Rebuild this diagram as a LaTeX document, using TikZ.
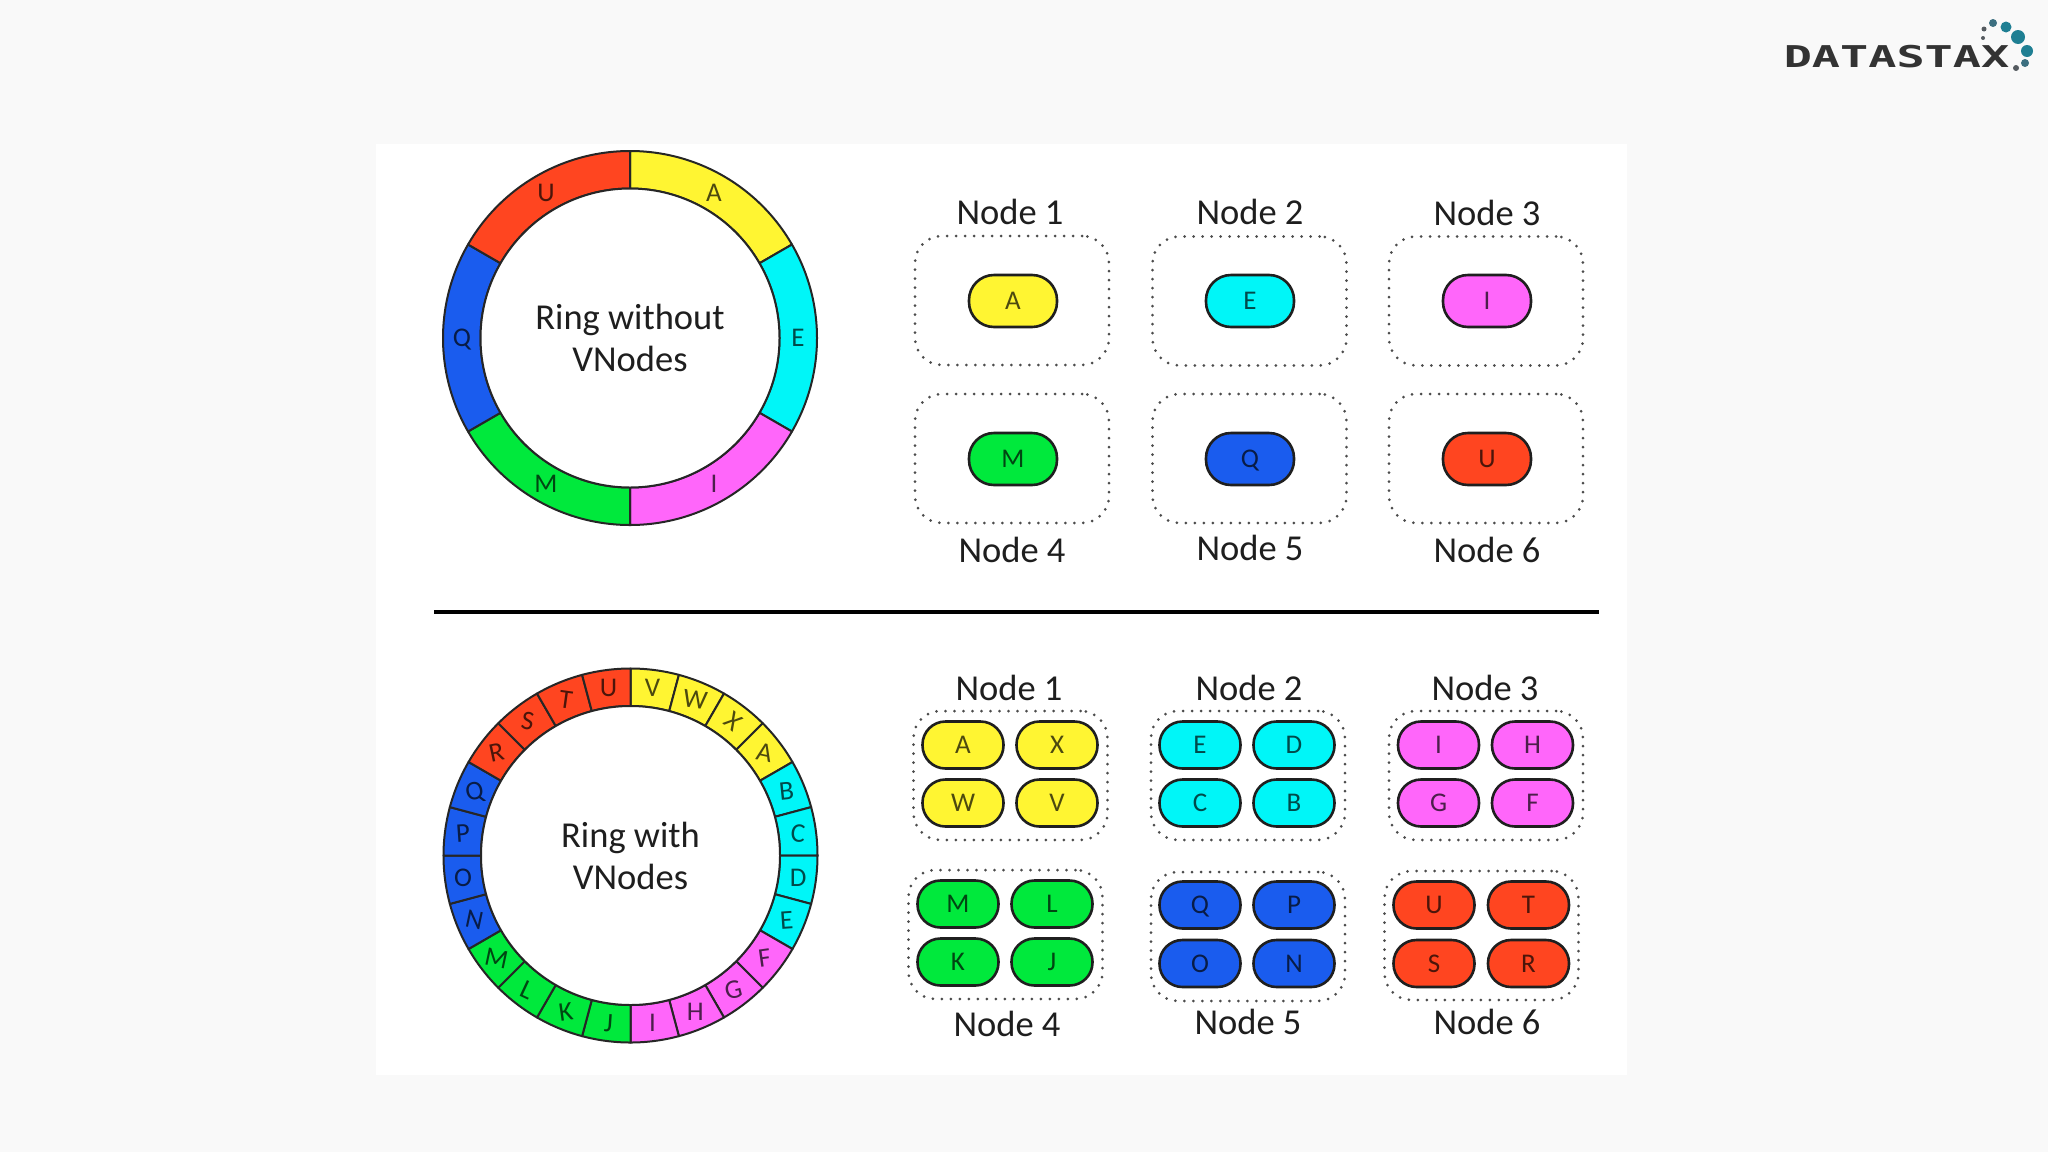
\documentclass[tikz,border=0pt]{standalone}
\usepackage{fontspec}
\setmainfont{Carlito}
\newfontfamily\logofont{DejaVu Sans Mono}
\usetikzlibrary{calc}
\definecolor{cY}{HTML}{FFF532}
\definecolor{cC}{HTML}{00F6F8}
\definecolor{cM}{HTML}{FF66FA}
\definecolor{cG}{HTML}{00E93C}
\definecolor{cB}{HTML}{1A5CEE}
\definecolor{cR}{HTML}{FF4520}
\definecolor{pagebg}{HTML}{F9F9F9}
\definecolor{inkc}{HTML}{1E1E1E}
\definecolor{tealA}{HTML}{1F7F93}
\definecolor{tealB}{HTML}{3C6F80}
\definecolor{grayd}{HTML}{555B60}
\tikzset{
  ringseg/.style={draw=black!85,line width=2pt,line join=round,fill=#1},
  hub/.style={circle,fill=white,draw=black!85,line width=2pt,minimum size=299pt,inner sep=0pt,outer sep=0pt,
    align=center,text=inkc,font=\fontsize{36.5}{42}\selectfont},
  tag/.style={inner sep=0pt,outer sep=0pt,text height=17.4pt,text depth=0pt,text=#1!30!black,font=\fontsize{27}{27}\selectfont},
  hostbox/.style={draw=black!70,line width=3pt,line cap=round,dash pattern=on 0pt off 9pt,rounded corners=27pt,
    minimum width=194pt,minimum height=129pt,inner sep=0pt,outer sep=0pt},
  bigpill/.style={draw=black!88,line width=2.6pt,fill=#1,text=#1!30!black,rounded corners=25pt,minimum width=88pt,minimum height=52pt,
    inner sep=0pt,outer sep=0pt,text height=17.4pt,text depth=0pt,font=\fontsize{27}{27}\selectfont},
  pill/.style={draw=black!88,line width=2.6pt,fill=#1,text=#1!30!black,rounded corners=23pt,minimum width=81pt,minimum height=47pt,
    inner sep=0pt,outer sep=0pt,text height=17.4pt,text depth=0pt,font=\fontsize{27}{27}\selectfont},
  hostname/.style={anchor=base,inner sep=0pt,outer sep=0pt,text=inkc,font=\fontsize{36.5}{36.5}\selectfont},
  logodot/.style={circle,inner sep=0pt,outer sep=0pt,fill=#1},
}
\newcommand{\ringsector}[4]{% centre, from, to, colour
  \path[ringseg=#4] ($(#1)+(#2:187pt)$) arc[start angle=#2,end angle=#3,radius=187pt]
    -- ($(#1)+(#3:149.5pt)$) arc[start angle=#3,end angle=#2,radius=149.5pt] -- cycle;}
\begin{document}
\begin{tikzpicture}[x=1pt,y=-1pt]
\useasboundingbox (0,0) rectangle (2048,1152);
\fill[pagebg] (0,0) rectangle (2048,1152);
\fill[white] (376,144) rectangle (1627,1075);

% logo
\node[anchor=base,inner sep=0pt,text=black!80,font=\logofont\bfseries\fontsize{30}{30}\selectfont,xscale=1.56] (logo) at (1896.5,67) {DATASTAX};
\node[logodot=tealB,minimum size=8pt] (d1) at (1993,23) {};
\node[logodot=tealA,minimum size=11pt] (d2) at (2006,27) {};
\node[logodot=tealA,minimum size=14pt] (d3) at (2018,37) {};
\node[logodot=tealA,minimum size=12pt] (d4) at (2027,51) {};
\node[logodot=tealB,minimum size=8pt] (d5) at (2025,63) {};
\node[logodot=grayd,minimum size=6pt] (d6) at (2016,68) {};
\node[logodot=grayd,minimum size=5pt] (d7) at (1984,29) {};
\node[logodot=grayd,minimum size=4pt] (d8) at (1983,38) {};

% upper ring
\coordinate (ca) at (630,338);
\foreach \f/\t/\c in {90/30/cY,30/-30/cC,-30/-90/cM,-90/-150/cG,-150/-210/cB,-210/-270/cR}{\ringsector{ca}{\f}{\t}{\c}}
\node[hub] (hubA) at (ca) {Ring without\\VNodes};
\foreach \a/\l/\c/\r in {60/A/cY/0,0/E/cC/0,-60/I/cM/0,-120/M/cG/0,180/Q/cB/0,120/U/cR/0}{
  \node[tag=\c,rotate=\r] (ra\l) at ($(ca)+(\a:168pt)$) {\l};}

% lower ring
\coordinate (cb) at (630.5,855.5);
\foreach \i/\c in {0/cY,1/cY,2/cY,3/cY,4/cC,5/cC,6/cC,7/cC,8/cM,9/cM,10/cM,11/cM,12/cG,13/cG,14/cG,15/cG,16/cB,17/cB,18/cB,19/cB,20/cR,21/cR,22/cR,23/cR}{
  \pgfmathsetmacro{\ff}{90-15*\i}\pgfmathsetmacro{\tt}{75-15*\i}
  \ringsector{cb}{\ff}{\tt}{\c}}
\node[hub] (hubB) at (cb) {Ring with\\VNodes};
\foreach \i/\l/\c/\r in {0/V/cY/0,1/W/cY/-8,2/X/cY/-40,3/A/cY/-12,4/B/cC/6,5/C/cC/-5,6/D/cC/0,7/E/cC/4,8/F/cM/8,9/G/cM/15,10/H/cM/0,11/I/cM/0,12/J/cG/-4,13/K/cG/8,14/L/cG/-25,15/M/cG/-12,16/N/cB/-12,17/O/cB/0,18/P/cB/4,19/Q/cB/12,20/R/cR/12,21/S/cR/-10,22/T/cR/-8,23/U/cR/0}{
  \pgfmathsetmacro{\aa}{82.5-15*\i}
  \node[tag=\c,rotate=\r] (rb\l) at ($(cb)+(\aa:169pt)$) {\l};}

% separator
\coordinate (sepL) at (434,612);
\coordinate (sepR) at (1599,612);
\draw[black,line width=4.2pt] (sepL) -- (sepR);

% upper hosts
\node[hostbox] (ua) at (1012,300.5) {};
\node[hostbox] (ub) at (1249.5,301) {};
\node[hostbox] (uc) at (1486,301) {};
\node[hostbox] (ud) at (1012,458.5) {};
\node[hostbox] (ue) at (1249.5,458.5) {};
\node[hostbox] (uf) at (1486,458.5) {};
\foreach \n/\x/\y/\t in {na/1010/224/Node 1,nb/1250/224/Node 2,nc/1487/225/Node 3,nd/1012/562/Node 4,ne/1250/560/Node 5,nf/1487/562/Node 6}{
  \node[hostname] (\n) at (\x,\y) {\t};}
\foreach \x/\y/\l/\c in {1013/301/A/cY,1250/301/E/cC,1487/301/I/cM,1013/459/M/cG,1250/459/Q/cB,1487/459/U/cR}{
  \node[bigpill=\c] (p\l) at (\x,\y) {\l};}

% lower hosts
\node[hostbox] (la) at (1010.5,775.5) {};
\node[hostbox] (lb) at (1248,775.5) {};
\node[hostbox] (lc) at (1486,775.5) {};
\node[hostbox] (ld) at (1005.5,934.5) {};
\node[hostbox] (le) at (1248,936.5) {};
\node[hostbox] (lf) at (1481.5,935.5) {};
\foreach \n/\x/\y/\t in {ma/1009/700/Node 1,mb/1249/700/Node 2,mc/1485/700/Node 3,md/1007/1036/Node 4,me/1248/1034/Node 5,mf/1487/1034/Node 6}{
  \node[hostname] (\n) at (\x,\y) {\t};}
\foreach \x/\y/\l/\c in {
  963/745/A/cY,1057/745/X/cY,963/803/W/cY,1057/803/V/cY,
  1200/745/E/cC,1294/745/D/cC,1200/803/C/cC,1294/803/B/cC,
  1438.5/745/I/cM,1532.5/745/H/cM,1438.5/803/G/cM,1532.5/803/F/cM,
  958/904/M/cG,1052/904/L/cG,958/962/K/cG,1052/962/J/cG,
  1200/905/Q/cB,1294/905/P/cB,1200/963.5/O/cB,1294/963.5/N/cB,
  1434/905/U/cR,1528.5/905/T/cR,1434/963.5/S/cR,1528.5/963.5/R/cR}{
  \node[pill=\c] (q\l) at (\x,\y) {\l};}
\end{tikzpicture}
\end{document}
